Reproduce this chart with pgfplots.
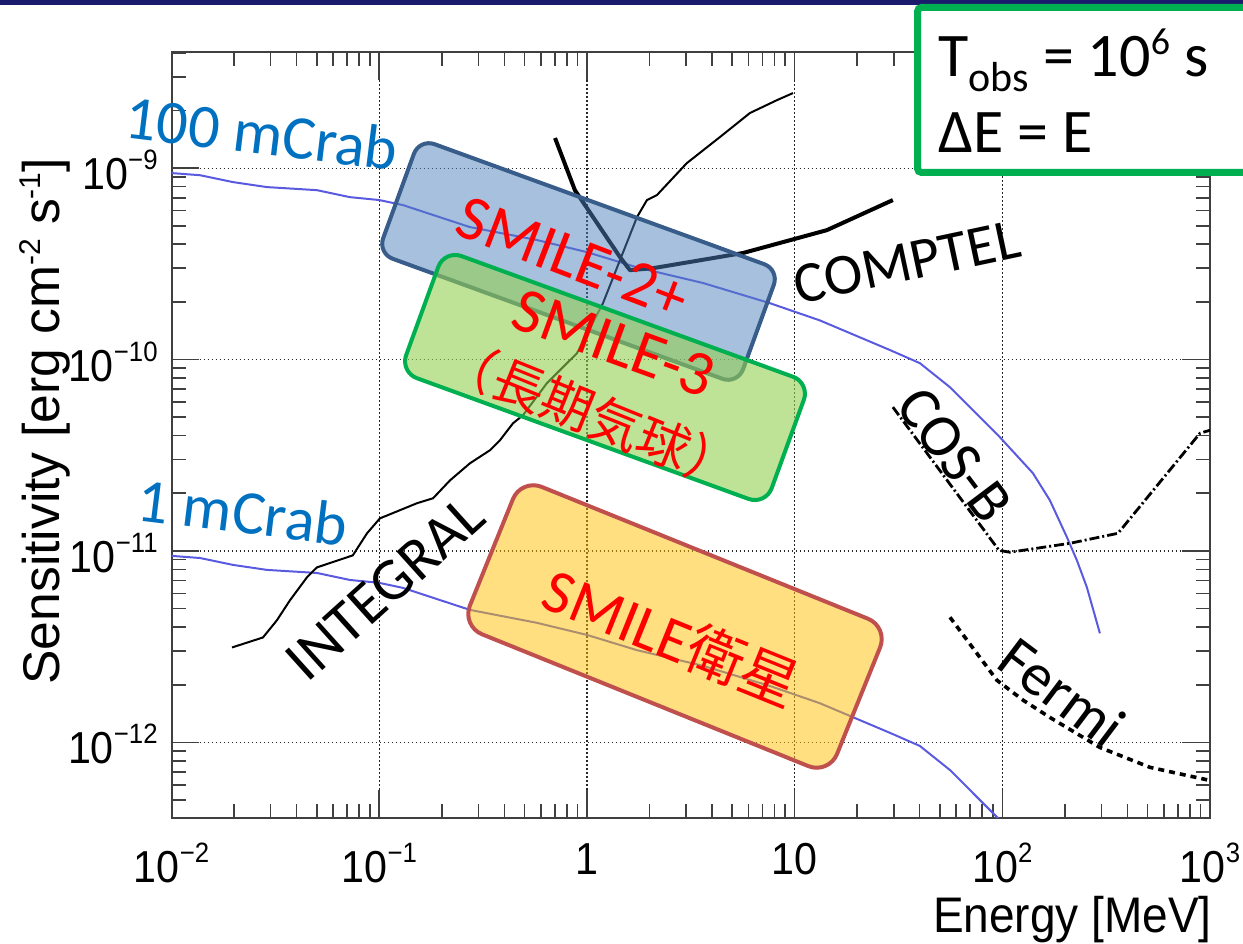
\documentclass[border=0pt]{standalone}
\usepackage{fontspec}
\usepackage{pgfplots}
\pgfplotsset{compat=1.18}
\setmainfont{Carlito}
\newfontfamily\helv[FakeStretch=0.92]{Liberation Sans}
\newfontfamily\helvr{Liberation Sans}
\newfontfamily\cjk{Noto Sans CJK JP}
\definecolor{crab}{HTML}{5A5AE1}
\definecolor{navybar}{HTML}{1B1B6E}
\definecolor{bbox}{HTML}{4F81BD}
\definecolor{bboxline}{HTML}{385D8A}
\definecolor{gbox}{HTML}{92D050}
\definecolor{gboxline}{HTML}{00B050}
\definecolor{obox}{HTML}{FFC000}
\definecolor{oboxline}{HTML}{C0504D}
\definecolor{crabtxt}{HTML}{0070C0}
\newcommand{\tl}[1]{10\raisebox{10pt}{\fontsize{14}{14}\selectfont #1}}
\newcommand{\fs}[1]{\fontsize{#1}{#1}\selectfont}
\begin{document}
\begin{tikzpicture}
\useasboundingbox (-85.8pt,-62.65pt) rectangle (535.7pt,408.85pt);
\clip (-85.8pt,-62.65pt) rectangle (535.7pt,408.85pt);
\begin{axis}[
  at={(0,0)}, anchor=south west,
  scale only axis, width=519.2pt, height=382.7pt,
  xmode=log, ymode=log,
  xmin=0.01, xmax=1000, ymin=4.036e-13, ymax=4.026e-9,
  xtick={0.01,0.1,1,10,100,1000},
  xticklabels={{\tl{−2}},{\tl{−1}},{1},{10},{\tl{2}},{\tl{3}}},
  ytick={1e-12,1e-11,1e-10,1e-9},
  yticklabels={{\tl{−12}},{\tl{−11}},{\tl{−10}},{\tl{−9}}},
  minor xtick={0.02,0.03,0.04,0.05,0.06,0.07,0.08,0.09,0.2,0.3,0.4,0.5,0.6,0.7,0.8,0.9,2,3,4,5,6,7,8,9,20,30,40,50,60,70,80,90,200,300,400,500,600,700,800,900},
  minor ytick={5e-13,6e-13,7e-13,8e-13,9e-13,2e-12,3e-12,4e-12,5e-12,6e-12,7e-12,8e-12,9e-12,2e-11,3e-11,4e-11,5e-11,6e-11,7e-11,8e-11,9e-11,2e-10,3e-10,4e-10,5e-10,6e-10,7e-10,8e-10,9e-10,2e-9,3e-9,4e-9},
  tick align=inside,
  major tick length=14pt, minor tick length=7pt,
  every tick/.style={black!75, line width=0.8pt},
  axis line style={black!75, line width=1pt},
  grid=major,
  major grid style={black!85, line width=0.6pt, dash pattern=on 0.7pt off 1.3pt},
  xticklabel style={font=\helv\fs{22.4}, inner sep=0pt, anchor=north, yshift=-12.6pt},
  yticklabel style={font=\helv\fs{22.4}, inner sep=0pt, anchor=east, xshift=-6.8pt, yshift=-1pt},
  xlabel={Energy [MeV]},
  xlabel style={font=\helv\fs{25}, inner sep=0pt, at={(axis description cs:1.002,-0.1333)}, anchor=east},
  ylabel={Sensitivity [erg cm\raisebox{9.5pt}{\fs{15}-2} s\raisebox{9.5pt}{\fs{15}-1}]},
  ylabel style={font=\helvr\fs{25.8}, inner sep=0pt, at={(axis description cs:-0.1219,0.518)}, anchor=center},
]
% 100 mCrab
\addplot[crab, line width=1pt] coordinates {
(0.01,9.42e-10) (0.01371,9.18e-10) (0.01977,8.45e-10) (0.02877,7.96e-10) (0.0501,7.67e-10)
(0.0723,7.05e-10) (0.1,6.81e-10) (0.130,6.41e-10) (0.273,4.92e-10) (0.574,4.21e-10)
(1.0,3.64e-10) (1.742,3.03e-10) (3.62,2.51e-10) (7.60,1.97e-10) (13.24,1.60e-10)
(28.8,1.12e-10) (40.1,9.57e-11) (56.0,7.16e-11) (97.3,3.93e-11) (140.3,2.55e-11)
(169.4,1.84e-11) (204.6,1.18e-11) (228.6,8.93e-12) (255.3,6.46e-12) (295.1,3.71e-12)};
% 1 mCrab
\addplot[crab, line width=1pt] coordinates {
(0.01,9.42e-12) (0.01371,9.18e-12) (0.01977,8.45e-12) (0.02877,7.96e-12) (0.0501,7.67e-12)
(0.0723,7.05e-12) (0.1,6.81e-12) (0.130,6.41e-12) (0.273,4.92e-12) (0.574,4.21e-12)
(1.0,3.64e-12) (1.742,3.03e-12) (3.62,2.51e-12) (7.60,1.97e-12) (13.24,1.60e-12)
(28.8,1.12e-12) (40.1,9.57e-13) (56.0,7.16e-13) (97.3,3.93e-13) (140.3,2.55e-13)};
% INTEGRAL
\addplot[black, line width=1pt] coordinates {
(0.01954,3.13e-12) (0.02754,3.53e-12) (0.03214,4.34e-12) (0.03715,5.52e-12) (0.04487,7.28e-12)
(0.0501,8.20e-12) (0.0746,9.48e-12) (0.0873,1.236e-11) (0.1007,1.479e-11) (0.1517,1.774e-11)
(0.1816,1.884e-11) (0.2193,2.339e-11) (0.2735,2.871e-11) (0.3412,3.357e-11) (0.3811,3.784e-11)
(0.4406,4.645e-11) (0.4920,5.117e-11) (0.6412,7.516e-11) (0.8954,1.079e-10) (1.194,1.968e-10)
(1.442,3.304e-10) (1.742,5.546e-10) (1.945,6.81e-10) (2.173,7.23e-10) (3.027,1.062e-9)
(4.365,1.452e-9) (6.095,1.941e-9) (8.222,2.265e-9) (9.817,2.466e-9)};
% COMPTEL
\addplot[black, line width=2pt, line join=round] coordinates {
(0.702,1.436e-9) (0.875,7.67e-10) (1.442,3.43e-10) (1.611,2.93e-10) (2.080,3.00e-10)
(5.636,3.60e-10) (14.29,4.74e-10) (29.72,6.81e-10)};
% COS-B
\addplot[black, line width=1.4pt, dash pattern=on 5pt off 1.5pt on 1pt off 1.5pt] coordinates {
(29.72,5.64e-11) (96.4,1.007e-11) (108.9,9.84e-12) (211.8,1.096e-11) (360.6,1.236e-11)
(895,4.12e-11) (1000,4.27e-11)};
% Fermi
\addplot[black, line width=1.8pt, dash pattern=on 3pt off 2.5pt] coordinates {
(56.0,4.50e-12) (94.2,2.11e-12) (125.9,1.66e-12) (169.4,1.35e-12) (295.1,9.40e-13)
(514,7.40e-13) (1000,6.32e-13)};
\end{axis}
\begin{scope}[shift={(-85.8pt,408.85pt)}, x=0.5pt, y=-0.5pt]
\fill[navybar] (0,0) rectangle (1243,5);
% boxes
\node[draw=bboxline, line width=2pt, fill=bbox, fill opacity=0.5, draw opacity=1,
  rounded corners=8pt, minimum width=191.5pt, minimum height=61pt, rotate=-20] at (578.5,261.5) {};
\node[draw=gboxline, line width=2pt, fill=gbox, fill opacity=0.6, draw opacity=1,
  rounded corners=9pt, minimum width=194.5pt, minimum height=65pt, rotate=-20] at (605,377.5) {};
\node[draw=oboxline, line width=2pt, fill=obox, fill opacity=0.5, draw opacity=1,
  rounded corners=11pt, minimum width=198pt, minimum height=79.5pt, rotate=-22] at (675,626.5) {};
% box texts
\node[text=red, font=\fs{32}, rotate=-21, inner sep=0pt] at (573,258) {SMILE-2+};
\node[text=red, font=\fs{32}, rotate=-20, inner sep=0pt] at (614,343) {SMILE-3};
\node[text=red, font=\cjk\fs{26}, rotate=-22, inner sep=0pt] at (592,414) {（長期気球）};
\node[text=red, font=\fs{31}, rotate=-22, inner sep=0pt] at (672,637) {SMILE{\cjk\fs{29}衛星}};
% curve labels
\node[text=crabtxt, font=\fs{31}, rotate=-7, inner sep=0pt] at (262,133) {100 mCrab};
\node[text=crabtxt, font=\fs{31}, rotate=-7, inner sep=0pt] at (243,512) {1 mCrab};
\node[font=\fs{29}, rotate=12, inner sep=0pt] at (907,262) {COMPTEL};
\node[font=\fs{30}, rotate=42, inner sep=0pt] at (385,588) {INTEGRAL};
\node[font=\fs{30}, rotate=-53, inner sep=0pt] at (955,455) {COS-B};
\node[font=\fs{30}, rotate=-37, inner sep=0pt] at (1062,692) {Fermi};
% Tobs box
\draw[line width=3.5pt, draw=gboxline, fill=white, rounded corners=2pt] (917.5,7.5) rectangle (1262,172.5);
\node[anchor=base west, font=\fs{31}, inner sep=0pt] at (938,77)
  {T\raisebox{-7.5pt}{\fs{21}obs} = 10\raisebox{11pt}{\fs{19}6} s};
\node[anchor=base west, font=\fs{31}, inner sep=0pt] at (938,153) {ΔE = E};
\end{scope}
\end{tikzpicture}
\end{document}
